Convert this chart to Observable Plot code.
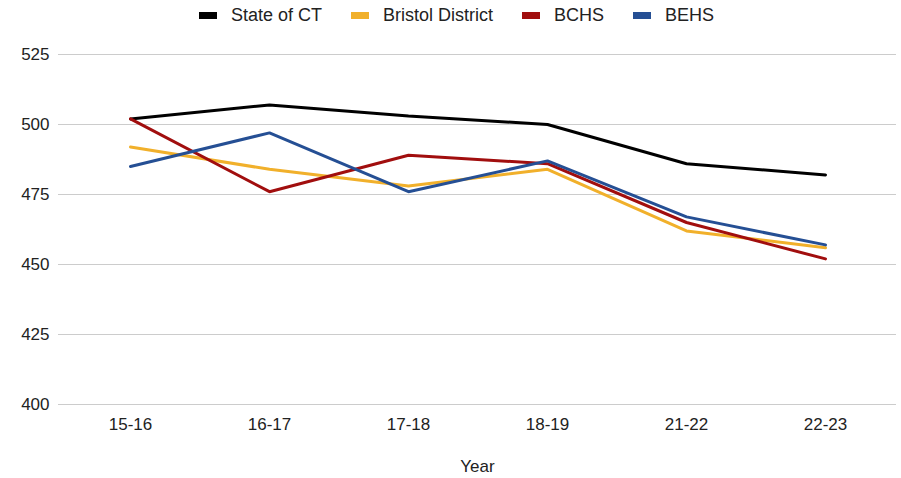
<!DOCTYPE html>
<html>
<head>
<meta charset="utf-8">
<script src="https://cdn.jsdelivr.net/npm/d3@7"></script>
<script src="https://cdn.jsdelivr.net/npm/@observablehq/plot@0.6"></script>
<style>
  body { margin: 0; background: #fff; font-family: "Liberation Sans", Arial, sans-serif; }
  #legend { height: 30px; display: flex; justify-content: center; align-items: center; gap: 29px; font-size: 18px; color: #222; padding-left: 12px; box-sizing: border-box; }
  .item { display: flex; align-items: center; gap: 14px; }
  .sw { width: 18px; height: 7px; display: inline-block; }
</style>
</head>
<body>
<div id="legend"></div>
<div id="chart"></div>
<script>
const years = ["15-16", "16-17", "17-18", "18-19", "21-22", "22-23"];
const seriesNames = ["State of CT", "Bristol District", "BCHS", "BEHS"];
const stateCT = [502, 507, 503, 500, 486, 482];
const bristol = [492, 484, 478, 484, 462, 456];
const bchs = [502, 476, 489, 486, 465, 452];
const behs = [485, 497, 476, 487, 467, 457];
const colors = ["#000000", "#f1b02b", "#a10e0e", "#254f94"];
const yTicks = [400, 425, 450, 475, 500, 525];

const valuesBySeries = [stateCT, bristol, bchs, behs];
const data = [];
seriesNames.forEach((s, i) => years.forEach((y, j) => data.push({series: s, year: y, value: valuesBySeries[i][j]})));

const legend = document.getElementById("legend");
seriesNames.forEach((s, i) => {
  const it = document.createElement("div");
  it.className = "item";
  it.innerHTML = `<span class="sw" style="background:${colors[i]}"></span><span>${s}</span>`;
  legend.appendChild(it);
});

const chart = Plot.plot({
  width: 901,
  height: 448,
  marginLeft: 58,
  marginRight: 5,
  marginTop: 24,
  marginBottom: 74,
  style: { fontFamily: "'Liberation Sans', Arial, sans-serif", fontSize: "17px", color: "#222" },
  x: { type: "point", domain: years, padding: 0.5, label: null },
  y: { domain: [400, 525], ticks: yTicks, label: null },
  color: { domain: seriesNames, range: colors },
  marks: [
    Plot.ruleY(yTicks, { stroke: "#cccccc", strokeWidth: 1 }),
    Plot.axisY({ ticks: yTicks, tickSize: 0, tickPadding: 9, label: null, fontSize: 17 }),
    Plot.axisX({ tickSize: 0, tickPadding: 13, label: null, fontSize: 17 }),
    Plot.text(["Year"], { frameAnchor: "bottom", dy: 67, fontSize: 17, fill: "#222" }),
    Plot.line(data, { x: "year", y: "value", z: "series", stroke: "series", strokeWidth: 3, strokeLinejoin: "miter" })
  ]
});
document.getElementById("chart").appendChild(chart);
</script>
</body>
</html>
